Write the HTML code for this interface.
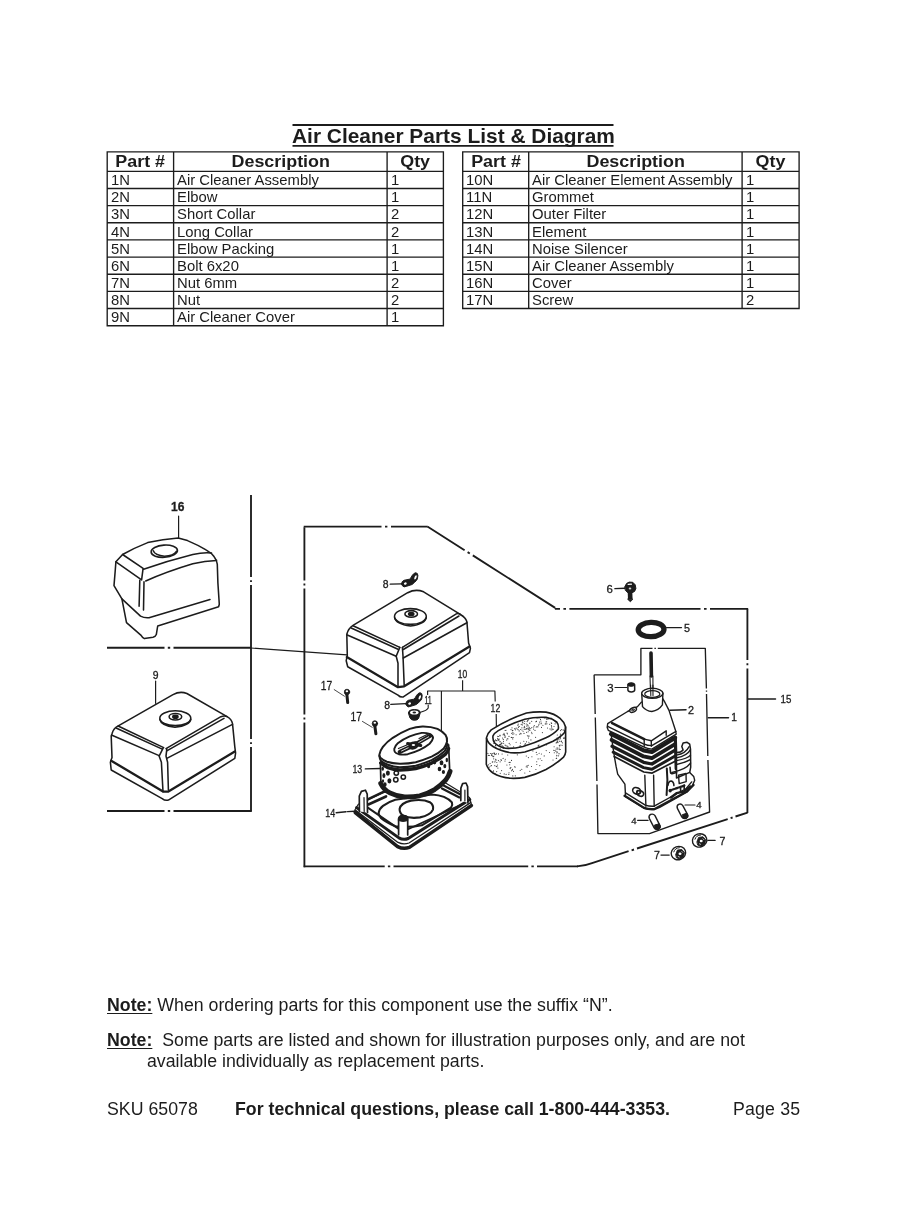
<!DOCTYPE html>
<html lang="en">
<head>
<meta charset="utf-8">
<title>Air Cleaner Parts List &amp; Diagram</title>
<style>
html,body{margin:0;padding:0;background:#fff;}
html{filter:grayscale(1) blur(0.3px);}
body{width:906px;height:1208px;position:relative;overflow:hidden;font-family:"Liberation Sans",Arial,Helvetica,sans-serif;color:#1c1c1c;}
.abs{position:absolute;white-space:nowrap;}
.abs{transform-origin:0 50%;}
#title{left:292.4px;top:124.5px;font-weight:bold;font-size:20.6px;line-height:22px;transform:scaleX(1.015);}
.th{font-weight:bold;font-size:16.8px;line-height:18px;text-align:center;transform:scaleX(1.066);transform-origin:50% 50%;}
.td{font-size:14.6px;line-height:17px;transform:scaleX(1.017);}
.note{font-size:17.5px;line-height:20px;left:107.3px;transform:scaleX(1.014);}
.note b{text-decoration:underline;text-decoration-thickness:1.3px;text-underline-offset:2px;}
svg{position:absolute;left:0;top:0;overflow:visible;}
#diagram text{font-family:"Liberation Sans",Arial,sans-serif;fill:#1c1c1c;stroke:#1c1c1c;stroke-width:0.3px;}
</style>
</head>
<body>
<svg id="grid" width="906" height="1208" viewBox="0 0 906 1208">
<g stroke="#1c1c1c" stroke-width="1.35" fill="none" stroke-linecap="square">
<path d="M293.4 125H612.6M293.4 145.8H612.6" stroke-width="1.8"/>
<path d="M107.2 151.80H443.4M107.2 171.30H443.4M107.2 188.46H443.4M107.2 205.61H443.4M107.2 222.77H443.4M107.2 239.92H443.4M107.2 257.08H443.4M107.2 274.23H443.4M107.2 291.38H443.4M107.2 308.54H443.4M107.2 325.70H443.4M107.2 151.8V325.70M173.6 151.8V325.70M387.1 151.8V325.70M443.4 151.8V325.70"/>
<path d="M462.7 151.80H799.1M462.7 171.30H799.1M462.7 188.46H799.1M462.7 205.61H799.1M462.7 222.77H799.1M462.7 239.92H799.1M462.7 257.08H799.1M462.7 274.23H799.1M462.7 291.38H799.1M462.7 308.54H799.1M462.7 151.8V308.54M528.7 151.8V308.54M742.1 151.8V308.54M799.1 151.8V308.54"/>
</g>
</svg>
<div id="title" class="abs">Air Cleaner Parts List &amp; Diagram</div>
<div class="abs th" style="left:107.2px;width:66.4px;top:153.2px">Part #</div>
<div class="abs th" style="left:173.6px;width:213.5px;top:153.2px">Description</div>
<div class="abs th" style="left:387.1px;width:56.3px;top:153.2px">Qty</div>
<div class="abs td" style="left:110.8px;top:172.05px">1N</div>
<div class="abs td" style="left:177.2px;top:172.05px">Air Cleaner Assembly</div>
<div class="abs td" style="left:390.7px;top:172.05px">1</div>
<div class="abs td" style="left:110.8px;top:189.21px">2N</div>
<div class="abs td" style="left:177.2px;top:189.21px">Elbow</div>
<div class="abs td" style="left:390.7px;top:189.21px">1</div>
<div class="abs td" style="left:110.8px;top:206.36px">3N</div>
<div class="abs td" style="left:177.2px;top:206.36px">Short Collar</div>
<div class="abs td" style="left:390.7px;top:206.36px">2</div>
<div class="abs td" style="left:110.8px;top:223.52px">4N</div>
<div class="abs td" style="left:177.2px;top:223.52px">Long Collar</div>
<div class="abs td" style="left:390.7px;top:223.52px">2</div>
<div class="abs td" style="left:110.8px;top:240.67px">5N</div>
<div class="abs td" style="left:177.2px;top:240.67px">Elbow Packing</div>
<div class="abs td" style="left:390.7px;top:240.67px">1</div>
<div class="abs td" style="left:110.8px;top:257.83px">6N</div>
<div class="abs td" style="left:177.2px;top:257.83px">Bolt 6x20</div>
<div class="abs td" style="left:390.7px;top:257.83px">1</div>
<div class="abs td" style="left:110.8px;top:274.98px">7N</div>
<div class="abs td" style="left:177.2px;top:274.98px">Nut 6mm</div>
<div class="abs td" style="left:390.7px;top:274.98px">2</div>
<div class="abs td" style="left:110.8px;top:292.13px">8N</div>
<div class="abs td" style="left:177.2px;top:292.13px">Nut</div>
<div class="abs td" style="left:390.7px;top:292.13px">2</div>
<div class="abs td" style="left:110.8px;top:309.29px">9N</div>
<div class="abs td" style="left:177.2px;top:309.29px">Air Cleaner Cover</div>
<div class="abs td" style="left:390.7px;top:309.29px">1</div>
<div class="abs th" style="left:462.7px;width:66.0px;top:153.2px">Part #</div>
<div class="abs th" style="left:528.7px;width:213.4px;top:153.2px">Description</div>
<div class="abs th" style="left:742.1px;width:57.0px;top:153.2px">Qty</div>
<div class="abs td" style="left:466.3px;top:172.05px">10N</div>
<div class="abs td" style="left:532.3px;top:172.05px">Air Cleaner Element Assembly</div>
<div class="abs td" style="left:745.7px;top:172.05px">1</div>
<div class="abs td" style="left:466.3px;top:189.21px">11N</div>
<div class="abs td" style="left:532.3px;top:189.21px">Grommet</div>
<div class="abs td" style="left:745.7px;top:189.21px">1</div>
<div class="abs td" style="left:466.3px;top:206.36px">12N</div>
<div class="abs td" style="left:532.3px;top:206.36px">Outer Filter</div>
<div class="abs td" style="left:745.7px;top:206.36px">1</div>
<div class="abs td" style="left:466.3px;top:223.52px">13N</div>
<div class="abs td" style="left:532.3px;top:223.52px">Element</div>
<div class="abs td" style="left:745.7px;top:223.52px">1</div>
<div class="abs td" style="left:466.3px;top:240.67px">14N</div>
<div class="abs td" style="left:532.3px;top:240.67px">Noise Silencer</div>
<div class="abs td" style="left:745.7px;top:240.67px">1</div>
<div class="abs td" style="left:466.3px;top:257.83px">15N</div>
<div class="abs td" style="left:532.3px;top:257.83px">Air Cleaner Assembly</div>
<div class="abs td" style="left:745.7px;top:257.83px">1</div>
<div class="abs td" style="left:466.3px;top:274.98px">16N</div>
<div class="abs td" style="left:532.3px;top:274.98px">Cover</div>
<div class="abs td" style="left:745.7px;top:274.98px">1</div>
<div class="abs td" style="left:466.3px;top:292.13px">17N</div>
<div class="abs td" style="left:532.3px;top:292.13px">Screw</div>
<div class="abs td" style="left:745.7px;top:292.13px">2</div>
<svg id="diagram" width="906" height="1208" viewBox="0 0 906 1208">
<g fill="none" stroke="#1c1c1c" stroke-linecap="round" stroke-linejoin="round">
<!-- ===== dash-dot frames ===== -->
<g id="frames" stroke-width="1.85" stroke-linecap="butt">
<!-- left panel -->
<path d="M251 495V577M251 580.2V582M251 585V739M251 742.2V744M251 747V811.6"/>
<path d="M107 647.7H164.5M167.8 647.7H170.2M173.5 647.7H251"/>
<path d="M107 811H164.5M167.8 811H170.2M173.5 811H251.7"/>
<!-- main frame -->
<path d="M304.4 527.3V580.5M304.4 583.5V585.5M304.4 588.5V714.5M304.4 717.5V719.5M304.4 722.5V867.2"/>
<path d="M303.7 526.6H381.5M385 526.6H387.4M391 526.6H427.6"/>
<path d="M427.4 526.5L464.6 550.2M467.6 552.1L469.8 553.5M472.8 555.4L555.2 607.9"/>
<path d="M554.9 608.8H560M563.4 608.8H566M569.4 608.8H700.5M704 608.8H706.6M710 608.8H748.1"/>
<path d="M747.4 608.8V660M747.4 663.2V665.2M747.4 668.5V813"/>
<path d="M747.6 812.6L735.5 816.5M732.6 817.5L730.6 818.1M727.7 819.1L637 848.5M634 849.5L631.6 850.3M628.6 851.2L592 863.2Q585 866 577 866.4"/>
<path d="M578 866.4H537M533.8 866.4H531.4M528.2 866.4H393.5M390.3 866.4H387.9M384.7 866.4H303.7"/>
</g>
<!-- inner box for 1 -->
<g id="box1" stroke-width="1.35" stroke-linecap="butt">
<path d="M594.1 674.8H640.9V648.3H652.5M654.4 648.3H655.9M657.8 648.3H705.3L706.4 688.5M706.5 690.6V691.8M706.5 694L707.8 756M707.9 760L709.6 812L649.5 833.6H597.9L597 784.5M596.9 781L595.3 717.5M595.2 714L594.1 674.8"/>
</g>
<!-- leader from left panel to cover -->
<path d="M251 648L347 654.9" stroke-width="1.1"/>


<!-- ===== wingnuts (8) ===== -->
<g id="wing1">
<path d="M390.2 584.2L401.5 583.9" stroke-width="1.3"/>
<path d="M401.5 583.9Q401.6 581.2 404 580.3L409.4 579.2Q411.2 578 412.1 575.6Q413.6 573.2 415.6 572.7Q417.9 572.9 417.9 575.5L417.4 578.9Q416.5 580.8 414.7 582.2L412.1 584.5L406.8 586.2L404.1 586.9Q402.3 586.6 401.5 583.9Z" fill="#1c1c1c" stroke-width="1"/><ellipse cx="405.3" cy="583.6" rx="1.45" ry="1.15" fill="#fff" stroke="none" transform="rotate(-20 405.3 583.6)"/><ellipse cx="415.5" cy="577.4" rx="1" ry="2.25" fill="#fff" stroke="none" transform="rotate(22 415.5 577.4)"/>
</g>
<g id="wing2" transform="translate(4.3 120)">
<path d="M386.5 584.4L401.5 583.6" stroke-width="1.3"/>
<path d="M401.5 583.9Q401.6 581.2 404 580.3L409.4 579.2Q411.2 578 412.1 575.6Q413.6 573.2 415.6 572.7Q417.9 572.9 417.9 575.5L417.4 578.9Q416.5 580.8 414.7 582.2L412.1 584.5L406.8 586.2L404.1 586.9Q402.3 586.6 401.5 583.9Z" fill="#1c1c1c" stroke-width="1"/><ellipse cx="405.3" cy="583.6" rx="1.45" ry="1.15" fill="#fff" stroke="none" transform="rotate(-20 405.3 583.6)"/><ellipse cx="415.5" cy="577.4" rx="1" ry="2.25" fill="#fff" stroke="none" transform="rotate(22 415.5 577.4)"/>
</g>
<!-- ===== screws (17) ===== -->
<g id="screws">
<path d="M334.2 689.6L344.4 696.2M362.4 721.4L372.2 727.3" stroke-width="0.8"/>
<path d="M346.7 693L347.7 702.6M374.7 725L375.9 733.8" stroke-width="3" stroke-linecap="round"/>
<ellipse cx="347" cy="692" rx="2.7" ry="2.8" fill="#1c1c1c" stroke-width="0.8"/>
<ellipse cx="374.9" cy="723.6" rx="2.7" ry="2.9" fill="#1c1c1c" stroke-width="0.8"/>
<ellipse cx="346.9" cy="691.2" rx="1.3" ry="1" fill="#fff" stroke="none"/>
<ellipse cx="374.8" cy="722.8" rx="1.3" ry="1" fill="#fff" stroke="none"/>
</g>
<!-- ===== grommet (11) ===== -->
<g id="grommet">
<path d="M428.2 705V708Q427 710.5 420.5 712.3" stroke-width="1.1"/>
<path d="M408.4 712.7Q408.6 709.6 414.3 709.5Q420.2 709.6 420.3 712.7L418.6 718.4Q417.6 720.2 414.4 720.3Q411.2 720.2 410.2 718.4Z" fill="#1c1c1c" stroke-width="1"/>
<ellipse cx="414.3" cy="712.5" rx="4.3" ry="2.1" fill="#fff" stroke="none"/>
<ellipse cx="414.3" cy="712.5" rx="1.8" ry="0.9" fill="#1c1c1c" stroke="none"/>
</g>
<!-- ===== bracket (10) ===== -->
<g id="bracket" stroke-width="1.15" stroke-linecap="butt">
<path d="M462.6 680.3V690.6M427.6 694.9V691H494.9L495.2 701.5M496.2 714L496.4 727"/>
<path d="M441.4 691V731.3"/>
</g>
<!-- ===== base (14) ===== -->
<g id="base" stroke-width="1.6">
<path d="M336.2 812.7L346 811.8M347.5 811.6L354.7 811.3" stroke-width="1.4"/>
<!-- outer rim -->
<path d="M354.7 810.3L358.3 804.2L383 792.7L444.8 782.5L469.5 797.5L471.5 804.6L409.5 847.4Q403.5 849.6 397.1 845.7Z" fill="#fff" stroke-width="1.2"/>
<path d="M355.2 812.6L397.6 846.6Q403.4 849.6 409.4 847.4L471.4 805.6" stroke-width="3.5"/>
<path d="M355.6 810.3L398 842.4Q403.4 845 409 843L470.6 802.6" stroke-width="1.3"/>
<path d="M356.6 807.6L398.9 837.9Q403.4 840.3 408.2 838.5L469.8 799.6" stroke-width="3"/>
<!-- floor / inner walls -->
<path d="M367.4 807.4L398.4 828.6L408.6 829L464.6 803" stroke-width="1.9"/>
<path d="M367.8 799.4L384 791.6M368.4 804.4L386 796.4" stroke-width="2.7"/>
<path d="M442 788.4L459.4 797.4M443.6 785.6L460.6 794.4" stroke-width="2.3"/>
<!-- raised platform -->
<path d="M378.6 813Q379.5 808.5 383 805.9Q389 801.5 395.3 799.7L432 794.5Q446 795.5 451.9 802.4Q453 805 451 807.7L421.8 825.3Q410 828 395.3 826.2Q386 822.5 381.2 818.3Q378.8 815.5 378.6 813Z" stroke-width="2.1"/>
<path d="M399.6 809Q400.8 802.8 411 800.6Q423 798.8 429.8 802.2Q434 805.2 433 809.6Q430.4 815.2 420 817.4Q410 818.8 403.4 815.8Q399.4 813.2 399.6 809Z" stroke-width="2.1"/>
<!-- posts -->
<path d="M359.4 811.6L359.3 796L361.4 791.4L365.4 790.2L367.2 794L367.5 812.5" fill="#fff" stroke-width="1.7"/>
<path d="M364.2 811.4L364 797.5" stroke-width="1.2"/>
<path d="M460.8 800.6L460.9 788L462.6 783.6L466 783L467.6 786.6L467.9 803" fill="#fff" stroke-width="1.7"/>
<path d="M464.9 801V790" stroke-width="1.2"/>
<path d="M398.6 834.8V818.5Q399 815.8 403.1 815.6Q407.3 815.8 407.7 818.5V835" fill="#fff" stroke-width="1.7"/>
<path d="M398.6 818.2Q399 815.4 403.1 815.2Q407.3 815.4 407.7 818.2L407.7 820.6Q403 822.4 398.6 820.6Z" fill="#1c1c1c" stroke-width="1"/>
</g>
<!-- ===== element (13) ===== -->
<g id="element" stroke-width="1.6">
<path d="M365.3 768.9L380.4 768.5" stroke-width="1.3"/>
<path d="M380 757L380.7 784Q383.6 790 389.9 793.2Q397 796.8 404.8 797.3Q412 797.6 419.7 796.2Q427.5 794.2 434.6 790Q441 785.8 445.6 780.6Q448.7 776.8 450.1 771.8L448.6 742Z" fill="#fff" stroke="none"/>
<path d="M380.4 762.7L380.9 783.5M448.6 744.8L449.7 771" stroke-width="1.7"/>
<path d="M380.7 783.4Q383.6 789.6 389.9 792.8Q397 796.4 404.8 796.9Q412 797.2 419.7 795.8Q427.5 793.8 434.6 789.6Q441 785.4 445.6 780.2Q448.7 776.4 450.1 771.4" stroke-width="4.8"/>
<!-- top oval -->
<path d="M379.4 754.7Q380 750.5 382.9 746.8Q387 741.8 392.8 737.8Q401 732.5 409.7 728.9Q416 726.8 422.6 726.4Q431 726.3 437.5 728.9Q442.5 731.3 445.5 734.9Q447.6 738 447 741.8Q446 745.5 443.5 748.8Q438.5 753.5 431.6 756.7Q424 760 415.7 762.2Q408 763.8 399.8 763.7Q392.5 763.4 386.9 761.7Q382.5 760 380.4 757.7Q379.3 756.3 379.4 754.7Z" fill="#fff" stroke-width="2"/>
<path d="M379.4 755.7Q379.6 758.6 380.9 760.7Q383.6 763.2 387.9 764.7Q393.5 766.8 399.8 767.2Q408 767.2 415.7 765.7Q424 763.6 431.6 760.2Q439 756.5 444.5 751.3Q447 748 447.5 743.8" stroke-width="2"/>
<path d="M380.7 762.9Q383.6 765.8 387.9 767.6Q393.5 769.6 399.8 770Q408 769.9 415.7 768.5Q424 766.4 431.6 763.1Q439.5 759.2 445.5 754.1Q447.8 751.8 448.6 748.6" stroke-width="3.4"/>
<!-- opening -->
<path d="M394.3 748.8Q395 745.8 397.8 743.3Q403 739.2 409.7 736.4Q415.5 734 421.7 732.9Q426 732.6 429.6 733.9Q432.8 735.3 433.1 737.8Q432.5 741 429.6 743.8Q425.5 747.2 419.7 749.8Q414 752.4 407.7 754.2Q403 755 398.8 754.2Q395.5 753.2 394.8 751.8Q394.1 750.4 394.3 748.8Z" stroke-width="1.9"/>
<path d="M399.8 751.8L412 746.2L430.2 735.8" stroke-width="4.2"/>
<path d="M407.6 743.6L420.8 745.6" stroke-width="3" stroke-linecap="round"/>
<path d="M401.5 751L409 747.4M418.5 742.6L428.6 736.8" stroke="#fff" stroke-width="0.8"/>
<path d="M398.4 748.6L408 744.4M419 738.6L428.6 733.8" stroke-width="1.1"/>
<ellipse cx="413.6" cy="745.4" rx="4.8" ry="3.1" fill="#1c1c1c" transform="rotate(-25 413.6 745.4)"/>
<ellipse cx="413.4" cy="745" rx="1.7" ry="1.1" fill="#fff" stroke="none"/>
<!-- holes -->
<g stroke-width="1.5"><circle cx="396.3" cy="773.1" r="2.2"/><circle cx="403.3" cy="777.1" r="2.2"/><circle cx="395.8" cy="779.8" r="2.2"/></g>
<g fill="#1c1c1c" stroke="none">
<ellipse cx="387.9" cy="773.1" rx="2" ry="2.6"/><ellipse cx="389.4" cy="780.8" rx="2" ry="2.6"/><ellipse cx="383.9" cy="775.6" rx="1.5" ry="2.5"/><ellipse cx="384.9" cy="784.5" rx="1.7" ry="2.3"/><ellipse cx="382.7" cy="768.7" rx="1.3" ry="2"/><ellipse cx="383" cy="781" rx="1.1" ry="1.8"/>
<ellipse cx="428.6" cy="765.9" rx="1.6" ry="2.4"/><ellipse cx="434.6" cy="762.1" rx="1.7" ry="2.3"/><ellipse cx="441.5" cy="762.7" rx="1.9" ry="2.5"/><ellipse cx="444.8" cy="766.1" rx="1.5" ry="2.2"/><ellipse cx="439.5" cy="769" rx="1.8" ry="2.3"/><ellipse cx="443.4" cy="772" rx="1.6" ry="2"/><ellipse cx="446.8" cy="760" rx="1.2" ry="2.2"/>
</g>
</g>
<!-- ===== outer filter (12) ===== -->
<clipPath id="clip12"><path d="M486.5 737.7L486.3 764.2Q488 769.5 493 773Q500 777.3 510.6 778.3Q518 778.6 524.8 777.4Q536 774.6 546 769.5Q556 764 563.6 757.1Q565.4 754.6 565.7 751.8L565.6 727Q564 721.5 560.1 718.3Q554.5 713.6 546 712.1Q536 711.4 526.5 713Q507 719.5 491.2 729.8Q487.5 733 486.5 737.7Z"/></clipPath>
<g id="outer" stroke-width="1.6">
<path d="M486.5 737.7L486.3 764.2Q488 769.5 493 773Q500 777.3 510.6 778.3Q518 778.6 524.8 777.4Q536 774.6 546 769.5Q556 764 563.6 757.1Q565.4 754.6 565.7 751.8L565.6 727Q564 721.5 560.1 718.3Q554.5 713.6 546 712.1Q536 711.4 526.5 713Q507 719.5 491.2 729.8Q487.5 733 486.5 737.7Z" fill="#fff"/>
<path d="M486.6 738.5Q487.5 743 493 746.5Q500 751 510.6 752.7Q518 753.2 524.8 752Q539 748 553 741.2Q561 736.8 564.5 732.4Q565.6 729.8 565.5 727"/>
<path d="M493 735.9Q494.5 732.8 498.3 730.6Q511 723.5 524.8 719.2Q535 716.8 546 717.4Q552.5 718.5 556.6 721.8Q559 725 558.3 728.9Q554 734 546 737.7Q535 742.8 523 746.5Q514 748.8 505.3 748.3Q498 746.5 494.7 743Q492.4 739.5 493 735.9Z"/>
<path d="M528.9 736.5h.01M514.9 728.6h.01M559.3 745.3h.01M527.4 735.8h.01M501.6 770.6h.01M506.7 740.1h.01M521.2 724.3h.01M530.8 728.6h.01M511.5 760.4h.01M495.0 773.5h.01M559.2 753.7h.01M500.2 735.2h.01M488.8 771.1h.01M502.1 745.8h.01M531.5 766.5h.01M541.5 727.4h.01M516.1 742.2h.01M522.0 730.0h.01M556.1 749.1h.01M489.9 774.1h.01M519.2 730.9h.01M516.1 734.7h.01M506.9 765.0h.01M524.0 727.7h.01M542.4 732.6h.01M556.8 755.4h.01M562.2 745.2h.01M524.8 773.0h.01M497.7 738.4h.01M560.5 734.1h.01M491.0 773.6h.01M512.8 775.9h.01M537.1 718.1h.01M561.4 741.1h.01M522.9 722.9h.01M510.1 768.1h.01M526.3 724.0h.01M526.3 756.0h.01M500.1 761.8h.01M518.2 729.7h.01M492.4 755.9h.01M561.4 729.6h.01M560.3 735.1h.01M493.9 743.4h.01M551.6 723.4h.01M509.1 762.3h.01M500.8 745.1h.01M494.8 754.6h.01M538.6 725.1h.01M502.5 738.0h.01M564.5 731.8h.01M507.9 738.8h.01M491.5 765.5h.01M537.0 754.6h.01M546.6 721.7h.01M536.8 764.5h.01M528.9 735.8h.01M513.6 746.8h.01M559.7 745.9h.01M560.1 737.8h.01M499.4 744.9h.01M495.1 777.6h.01M520.6 729.5h.01M531.7 721.3h.01M542.9 725.2h.01M546.9 723.7h.01M493.7 758.8h.01M546.9 719.4h.01M529.3 727.2h.01M520.6 745.8h.01M520.4 743.1h.01M557.1 740.2h.01M527.1 721.6h.01M546.8 719.1h.01M505.1 730.5h.01M499.9 736.0h.01M505.2 736.7h.01M554.3 752.7h.01M503.7 747.3h.01M492.3 762.1h.01M501.3 760.4h.01M513.5 771.3h.01M501.3 743.8h.01M505.0 736.9h.01M562.5 742.8h.01M494.8 765.6h.01M525.0 744.4h.01M496.5 753.8h.01M524.7 727.2h.01M504.8 735.4h.01M507.7 755.0h.01M536.2 727.0h.01M502.1 754.0h.01M496.9 740.7h.01M507.4 733.8h.01M516.2 728.1h.01M492.9 753.6h.01M513.2 737.5h.01M496.3 776.2h.01M553.8 750.3h.01M507.0 733.0h.01M564.4 738.2h.01M512.7 738.9h.01M504.2 773.9h.01M539.0 718.0h.01M493.5 770.9h.01M488.6 764.8h.01M501.8 742.7h.01M529.1 728.2h.01M489.3 767.1h.01M563.5 738.2h.01M496.8 762.5h.01M563.1 729.9h.01M535.0 730.4h.01M495.7 775.9h.01M536.3 721.3h.01M509.7 764.7h.01M526.6 726.0h.01M557.7 741.3h.01M557.1 747.8h.01M495.5 745.4h.01M536.7 761.7h.01M488.4 755.4h.01M553.0 760.0h.01M490.4 753.5h.01M513.9 733.7h.01M514.5 766.7h.01M509.0 772.7h.01M511.0 729.6h.01M524.4 723.6h.01M560.3 737.2h.01M528.0 728.1h.01M538.2 746.5h.01M538.1 758.9h.01M539.8 765.6h.01M495.4 754.2h.01M556.0 751.4h.01M501.9 743.5h.01M560.3 749.5h.01M523.8 741.2h.01M522.3 724.9h.01M512.0 727.8h.01M556.2 742.9h.01M490.1 763.5h.01M527.0 765.7h.01M555.0 750.5h.01M503.1 734.8h.01M549.5 752.5h.01M561.5 741.7h.01M503.3 748.4h.01M500.7 744.1h.01M518.2 724.2h.01M508.0 746.9h.01M490.8 766.0h.01M503.5 741.3h.01M497.9 768.1h.01M517.3 729.0h.01M528.4 757.6h.01M529.8 771.3h.01M559.2 749.6h.01M539.1 753.2h.01M548.2 718.9h.01M526.5 741.8h.01M496.9 766.6h.01M553.1 729.4h.01M502.5 746.0h.01M494.8 762.0h.01M520.2 770.3h.01M551.9 728.2h.01M489.0 774.0h.01M498.5 753.9h.01M518.4 727.3h.01M517.9 725.3h.01M509.0 736.4h.01M504.3 734.6h.01M533.6 729.1h.01M531.8 727.5h.01M532.0 733.6h.01M519.8 734.3h.01M499.7 746.1h.01M530.0 723.0h.01M487.9 753.4h.01M491.8 753.8h.01M544.8 717.9h.01M499.8 735.2h.01M552.7 729.6h.01M495.2 761.0h.01M495.8 747.0h.01M530.9 739.9h.01M496.2 766.3h.01M555.1 723.8h.01M560.4 738.7h.01M493.7 756.3h.01M503.6 743.2h.01M526.3 728.5h.01M507.3 738.7h.01M541.1 723.7h.01M532.9 750.9h.01M536.3 752.4h.01M511.6 770.7h.01M505.0 737.5h.01M528.2 765.3h.01M551.2 722.7h.01M518.2 724.1h.01M493.3 756.7h.01M498.5 739.5h.01M546.5 744.8h.01M497.7 739.7h.01M546.1 721.9h.01M527.4 767.0h.01M556.8 752.8h.01M501.0 759.6h.01M560.5 730.6h.01M496.3 740.5h.01M521.2 733.7h.01M522.7 721.7h.01M498.4 736.5h.01M528.1 725.9h.01M540.2 758.7h.01M556.8 755.8h.01M557.6 749.0h.01M499.2 739.0h.01M512.3 769.9h.01M501.6 776.6h.01M559.1 748.1h.01M523.1 731.2h.01M497.4 765.0h.01M503.3 739.4h.01M493.6 773.6h.01M521.9 727.8h.01M559.8 741.4h.01M564.1 737.3h.01M493.3 771.2h.01M507.1 746.1h.01M554.5 721.0h.01M558.0 742.6h.01M535.6 737.3h.01M564.2 730.6h.01M549.7 724.3h.01M491.1 774.3h.01M499.7 741.7h.01M504.0 734.2h.01M524.2 729.3h.01M508.8 774.4h.01M557.1 742.2h.01M511.9 737.4h.01M508.4 778.0h.01M503.1 758.4h.01M535.9 769.5h.01M519.7 746.0h.01M491.7 754.3h.01M514.6 728.7h.01M538.2 745.5h.01M554.0 726.5h.01M560.9 745.0h.01M529.2 729.1h.01M558.6 755.8h.01M525.8 729.3h.01M534.3 725.6h.01M490.7 774.6h.01M489.6 755.5h.01M546.5 717.6h.01M527.0 728.9h.01M491.2 771.2h.01M529.8 730.4h.01M551.4 725.6h.01M505.1 745.1h.01M539.0 745.1h.01M554.1 746.7h.01M492.8 761.8h.01M515.3 775.8h.01M510.1 762.4h.01M551.2 729.9h.01M558.8 753.7h.01M531.9 756.7h.01M522.4 722.1h.01M540.5 719.4h.01M493.4 773.3h.01M496.7 771.6h.01M546.2 750.6h.01M556.6 758.2h.01M505.3 759.2h.01M506.0 745.7h.01M504.0 733.3h.01M545.9 724.0h.01M510.2 768.6h.01M498.4 760.6h.01M496.6 774.5h.01M495.3 774.5h.01M527.6 724.8h.01M487.7 770.7h.01M521.8 769.3h.01M510.9 767.5h.01M556.3 758.4h.01M553.5 719.9h.01M500.5 741.7h.01M494.5 753.4h.01M494.3 773.7h.01M533.7 726.9h.01M509.2 743.4h.01M528.2 731.7h.01M556.9 742.0h.01M506.0 730.2h.01M541.8 760.5h.01M499.9 744.5h.01M511.8 733.4h.01M541.4 754.0h.01M524.7 721.5h.01M528.5 738.0h.01M498.8 740.4h.01M557.6 752.0h.01M524.4 726.3h.01M539.6 722.1h.01M512.8 730.4h.01M498.8 739.4h.01M537.9 726.8h.01M510.1 744.7h.01M494.1 752.9h.01M551.1 718.0h.01M536.9 726.7h.01M515.2 767.1h.01M512.5 769.3h.01M544.2 755.9h.01M511.2 737.5h.01M526.6 732.3h.01M503.3 746.9h.01M512.9 732.3h.01M518.4 727.1h.01M500.2 773.3h.01M495.6 759.2h.01M559.0 739.7h.01M517.3 754.8h.01M496.2 760.0h.01M500.1 748.3h.01M551.6 726.9h.01M557.8 739.5h.01M529.5 723.2h.01M540.9 721.0h.01M536.5 721.4h.01M494.8 740.9h.01M497.8 736.4h.01M520.3 733.2h.01M545.3 723.9h.01M547.5 728.0h.01M505.0 761.1h.01M528.9 742.2h.01M515.4 729.8h.01M555.9 722.3h.01M550.0 728.9h.01M495.5 739.8h.01M525.3 743.5h.01M531.6 732.2h.01M512.3 730.6h.01M506.1 774.4h.01M535.8 721.7h.01M526.2 766.8h.01M512.8 734.2h.01M557.0 738.1h.01M557.3 735.0h.01M528.5 729.7h.01M539.2 724.0h.01M519.3 726.5h.01M541.2 723.0h.01M491.5 755.5h.01M527.6 720.6h.01M524.0 733.4h.01M528.6 719.8h.01" stroke-width="1.15" stroke-linecap="round" opacity="0.85" clip-path="url(#clip12)"/>
</g>

<!-- ===== bolt (6) ===== -->
<g id="bolt6">
<path d="M614.9 588.6L625 588.2" stroke-width="1.4"/>
<path d="M630 592L630.3 599.6" stroke-width="4.6" stroke-linecap="butt"/>
<path d="M627.8 599.4L630.4 601.8L632.6 599.4Z" fill="#1c1c1c" stroke-width="0.8"/>
<path d="M624.9 586.6L626.6 583.4L629.2 582.1L632.8 582.3L635.2 584.8L635.9 588.4L634.6 591.4L632 592.8L628 592.8L625.6 590.6Z" fill="#1c1c1c" stroke-width="1"/>
<path d="M628.2 584.4L631.4 584.2" stroke="#fff" stroke-width="1.3"/>
<ellipse cx="630" cy="588.4" rx="1.3" ry="1" fill="#fff" stroke="none" opacity="0.8"/>
</g>
<!-- ===== ring (5) ===== -->
<g id="ring5">
<path d="M666.5 627.6H681.5" stroke-width="1.3"/>
<ellipse cx="651.1" cy="629.5" rx="12.9" ry="7.2" stroke-width="5.3" transform="rotate(-2 651.1 629.5)"/>
</g>
<!-- ===== collar (3) ===== -->
<g id="collar3">
<path d="M615 687.5H626.8" stroke-width="1.2"/>
<path d="M627.9 684.7Q628 683 631.2 682.9Q634.4 683 634.6 684.7L634.7 690.2Q634.4 691.9 631.3 692Q628.2 691.9 627.9 690.2Z" fill="#fff" stroke-width="1.5"/>
<ellipse cx="631.2" cy="684.8" rx="3.3" ry="1.6" fill="#1c1c1c" stroke-width="0.8"/>
</g>
<!-- ===== air cleaner assembly (1/2) ===== -->
<g id="assy" stroke-width="1.4">
<path d="M670 710.2L686 709.8M708.3 717.8H728.5M747.7 698.9H775.5" stroke-width="1.5"/>
<!-- rod -->
<path d="M651 653L651.4 676" stroke-width="3.6" stroke-linecap="round"/>
<path d="M650 676L650.6 695M652.9 676L653 695" stroke-width="1.1"/>
<!-- lower body silhouette -->
<path d="M611 733.6L614.3 756.2L616.1 766.4L617.7 774.2L624.9 784.1L625.5 795.1L624.3 796.2L644.2 808.4Q649 809.9 654.2 809.5L659.7 807.3L687.3 791.8L692.4 785.6L694.7 780.3L693.7 776.4L689.7 772.4L676.2 768.6L675.1 737.7Z" fill="#fff"/>
<path d="M625.5 792.9L645.3 805.1Q649.5 806.6 654.2 806.2L686.2 788.5L691.7 781.9"/>
<path d="M624.6 795.6L644.2 807.9Q649 809.6 654.2 809.1L687 791.4L693.6 785" stroke-width="2.2"/>
<path d="M644.8 775.3L645.9 806.2M653.6 775.3L654.2 806.2"/>
<path d="M666.8 768.4L667.4 780L666.6 795" stroke-width="2"/>
<ellipse cx="636.7" cy="790.9" rx="4.2" ry="3.2" stroke-width="1.6" transform="rotate(25 636.7 790.9)"/>
<ellipse cx="638.4" cy="792" rx="1.9" ry="1.4" stroke-width="1.1" transform="rotate(25 638.4 792)"/>
<path d="M667.9 785.4Q668.6 781 671.2 781Q673.8 781.6 673.9 785.6" stroke-width="1.6"/>
<ellipse cx="670.2" cy="790.6" rx="1.7" ry="1.9" fill="#1c1c1c" stroke="none"/>
<path d="M672 789.8L684.4 785.6" stroke-width="2.2" stroke-dasharray="2.4 1.2"/>
<path d="M671 797.5L676.5 793.2L683.5 791.6L690.5 786.4" stroke-width="2.4"/>
<path d="M680.6 786.6V790.6M684.2 785V789" stroke-width="1.6"/>
<ellipse cx="640.2" cy="793.4" rx="3.6" ry="2.6" stroke-width="1.5" transform="rotate(25 640.2 793.4)"/>
<!-- ribs -->
<path d="M611 733.9L643.6 750.4L651.9 752L675.1 737.7" stroke-width="4.2"/>
<path d="M611.6 739.9L643.6 756.4L651.9 758.1L675.1 744.2" stroke-width="3.9"/>
<path d="M612.1 746.3L643.6 762.3L651.9 764L675.1 750.2" stroke-width="3.3"/>
<path d="M613.2 752.2L643.6 767.6L651.9 769.3L675.1 756" stroke-width="3"/>
<path d="M614.2 756.6L643.8 772L652.2 773.1L675.2 761.2" stroke-width="1.7"/>
<path d="M675.3 737.7L676.2 768.6" stroke-width="3.2"/>
<!-- clamp bracket -->
<path d="M676.5 752.5Q680.8 752.6 683.1 749.9L681.8 746.6L683.1 742.9L687.1 742.3L689.7 744.2L690.5 749.2L690.7 767.1L689.7 772.4L676.5 778Z" fill="#fff" stroke-width="1.5"/>
<path d="M676.5 755.2Q685.8 753.4 689.1 746.6M676.5 757.8Q687.1 756 690.4 749.6M676.5 760.6Q687.7 758.8 690.5 755.2" stroke-width="1.3"/>
<path d="M676.5 764.4Q685 762.6 689.7 759.8M671.9 772.4Q685.8 769.6 690.5 763.1" stroke-width="1.5"/>
<path d="M678.5 775.2L686 773.4L686.2 781.6L679.2 783.6Z" stroke-width="1.4"/>
<path d="M670 767.2L670.6 773L672 773.8L676.5 772.4" stroke-width="1.6"/>
<!-- top cover (elbow 2) -->
<path d="M641.4 702.1L637.5 706.6L627.6 711.5L607.7 723.7L607.2 727.5L608.3 730.3L643.6 746.8Q647.6 748.8 651.9 749.1L676.2 734.2L675.6 730.8L669 710.4L665.1 702.7L662.9 698.8Z" fill="#fff"/>
<path d="M607.6 726.4L643.4 743.8Q647.6 745.6 651.8 745.6L676 731.4"/>
<path d="M612.1 723.1L644.2 739.1" stroke-width="2.6"/>
<path d="M644.2 739.1L651.3 740.8L666.2 730.8V735.3"/>
<path d="M644.2 739.7V746.3M651.3 740.8V746.3"/>
<ellipse cx="633.1" cy="709.9" rx="3.6" ry="2.1" transform="rotate(-25 633.1 709.9)" fill="#fff"/>
<ellipse cx="633.1" cy="709.9" rx="1.4" ry="0.8" transform="rotate(-25 633.1 709.9)" stroke-width="1"/>
<!-- neck -->
<path d="M641.7 693.3L642.5 706.6Q646 711 651.9 711.5Q658.5 710.6 662.4 704.9L662.9 693.3Z" fill="#fff"/>
<ellipse cx="652.3" cy="693.3" rx="10.6" ry="5" fill="#fff"/>
<ellipse cx="652.3" cy="694" rx="7.6" ry="3.4" stroke-width="1.2"/>
<path d="M650.6 685L650.8 695.6M652.9 685L653 695.6" stroke-width="1.1"/>
</g>
<!-- ===== pins (4) ===== -->
<g id="pins" stroke-width="1.4">
<path d="M685 805H695M637.6 820.3H648.1" stroke-width="1.2"/>
<path d="M677.4 808.4Q676.4 805.6 678.6 804.4Q681.2 803.4 682.8 805.6L687.6 814.6Q688.6 817.2 686 818.4Q683 819.2 681.8 817Z" fill="#fff"/>
<path d="M682.6 814.6L686.8 813.2L687.8 815.4Q688.4 817.4 686 818.4Q683.2 819.2 682 817.2Z" fill="#1c1c1c" stroke-width="1"/>
<path d="M649.4 818.6Q648.2 815.8 650.6 814.4Q653.4 813.4 655 815.6L660 825.6Q660.8 828 658.4 829.2Q655.4 830 654.2 827.8Z" fill="#fff"/>
<path d="M654.8 825L659.2 823.8L660.2 826Q660.8 828 658.4 829.2Q655.6 830 654.4 828Z" fill="#1c1c1c" stroke-width="1"/>
</g>
<!-- ===== nuts (7) ===== -->
<g id="nuts" stroke-width="1.3">
<path d="M707.9 840.4H715.1M661 855.1H669.2" stroke-width="1.3"/>
<ellipse cx="699.6" cy="840.4" rx="7.3" ry="6.6" fill="#fff" stroke-width="1.4" transform="rotate(-20 699.6 840.4)"/>
<path d="M695.0 839.2Q696.1 835.2 700.6 835.0" stroke-width="1"/>
<path d="M697.0 841.6L698.6 837.4L703.0 836.8L705.6 839.8L704.8 844.0L701.4 846.4L698.0 845.2Z" fill="#1c1c1c" stroke-width="0.9"/>
<ellipse cx="701.2" cy="841.0" rx="1.5" ry="1.2" fill="#fff" stroke="none"/>
<path d="M699.4 843.8l1.2 .5M703.0 838.8l.9 .9" stroke="#fff" stroke-width="0.7"/>
<ellipse cx="678.4" cy="853.1" rx="7.3" ry="6.6" fill="#fff" stroke-width="1.4" transform="rotate(-20 678.4 853.1)"/>
<path d="M673.8 851.9Q674.9 847.9 679.4 847.7" stroke-width="1"/>
<path d="M675.8 854.3L677.4 850.1L681.8 849.5L684.4 852.5L683.6 856.7L680.2 859.1L676.8 857.9Z" fill="#1c1c1c" stroke-width="0.9"/>
<ellipse cx="680.0" cy="853.7" rx="1.5" ry="1.2" fill="#fff" stroke="none"/>
<path d="M678.2 856.5l1.2 .5M681.8 851.5l.9 .9" stroke="#fff" stroke-width="0.7"/>
</g>
<!-- ===== part 16 ===== -->
<g id="p16" stroke-width="1.55">
<path d="M178.6 516V537.5" stroke-width="1.2"/>
<path d="M115.9 561.8L122.6 554.5Q134 548 147.7 542.6Q163 539 178.2 537.9L187.5 540.6Q198 545 206 549.9Q211.5 553 214 556.5Q216.8 560 217.3 564.4L217.9 583L219.3 604.2L218.6 606.8L157.7 626L156.3 634.6Q155.5 636.8 153 637.3L144.4 638.6Q142.3 637.5 141.1 635.3L126.5 622.7L121.9 598.9L114 585.6L115.3 569.7Z" fill="#fff"/>
<path d="M122.6 554.5L143.1 568.4L141.6 579.9L115.9 561.8"/>
<path d="M143.6 569.2Q167 561 192.8 554.5Q203 552.2 211.5 553"/>
<path d="M145.7 581Q167 571.5 192.8 563.8Q205 560.8 216.6 560.4"/>
<path d="M139.8 580.3L139.1 606.2M144 581.7L143.5 610.1"/>
<path d="M121.9 598.9L140.5 616.1Q144.5 618.2 149 617.7L210 599.5"/>
<ellipse cx="164.3" cy="551.2" rx="13.2" ry="6.1" transform="rotate(-4 164.3 551.2)"/>
<path d="M153.3 550.8Q155 555.5 164.5 556.2Q173.5 556 176.6 551.2"/>
</g>
<!-- ===== part 9 ===== -->
<g id="p9" stroke-width="1.55">
<path d="M155.6 681.2V703.3" stroke-width="1.2"/>
<path d="M112 733.7Q113.5 728.6 117.4 726.4L173 694.6Q180 690.8 186.9 693.5L227.1 716.7Q231.6 719.3 232.5 723.6L234.8 746.8L235.6 753L234.8 758.4L168.4 800.1Q165 801 162.2 798.6L111.2 770L110.4 762.3L112 757.6L111.2 736Z" fill="#fff"/>
<path d="M118.1 726L163.7 747.6M116.6 728.3L162.2 749.1"/>
<path d="M112 735.2L159.1 755.6"/>
<path d="M163 748.4L159.1 756.1L161.4 762.3L163 791.6M166.8 749.1L166 756.1L167.6 762.3L168.4 790.1"/>
<path d="M166 748.7L220.9 716.7Q224.5 715.2 227.1 716.7M166.8 750.8L224 718.3"/>
<path d="M166.8 758.4L232.5 724.4"/>
<path d="M111.2 760.7L163 791.6L168.4 791.6L234.8 751.4" stroke-width="2.3"/>
<ellipse cx="175.3" cy="718.2" rx="15.5" ry="7.4" fill="#fff"/>
<path d="M159.9 719.5Q161 725.5 175 727.3Q189.5 725.5 190.8 719.5"/>
<ellipse cx="175.4" cy="716.7" rx="6.3" ry="3.2"/>
<ellipse cx="175.4" cy="716.7" rx="2.6" ry="1.5" fill="#1c1c1c"/>
</g>
<!-- ===== main cover ===== -->
<g id="cover" stroke-width="1.55">
<path d="M346.8 634.2Q348.5 628 353 625.3L407.7 592.7Q415.5 588.6 423.6 591.8L460.7 614.7Q465.8 617.5 466.9 621.8L468.6 643L470.4 648.3L469.5 652.7L403.3 696.9Q400.5 697.6 398 695.1L347.7 666.8L346.2 660.7L347.3 655.4Z" fill="#fff"/>
<path d="M353 625.7L399.8 647.4M351.2 628L398 649.2"/>
<path d="M347.3 635L396.2 656.2"/>
<path d="M399.8 647.4L396.2 656.2L398 663.3L398 686.3M402.4 647.4L403 656L403.3 663.3L404.2 685.4"/>
<path d="M402.4 647.4L456.3 613.9Q458.5 612.9 460.7 614.7M403.3 649.5L459 616"/>
<path d="M403.3 658L466.9 622.7"/>
<path d="M346.8 657.1L398 687.2L404.2 686.3L469.5 646.5" stroke-width="2.3"/>
<ellipse cx="410.4" cy="616.5" rx="15.9" ry="7.9" fill="#fff"/>
<path d="M394.6 617.8Q396 624 410.5 626Q425 624 426.2 617.8"/>
<ellipse cx="411.2" cy="613.9" rx="6.3" ry="3.3"/>
<ellipse cx="411.2" cy="613.9" rx="2.6" ry="1.5" fill="#1c1c1c"/>
</g>
</g>

<!-- ===== labels ===== -->
<g id="labels" fill="#1c1c1c" font-family="Liberation Sans, Arial, sans-serif" font-size="10.4">
<text x="171" y="510.8" font-size="12.6" font-weight="bold" textLength="13.4" lengthAdjust="spacingAndGlyphs">16</text>
<text x="152.8" y="678.6">9</text>
<text x="382.7" y="587.5">8</text>
<text x="384.3" y="708.9">8</text>
<text x="320.8" y="690.1" font-size="12.4" textLength="11.4" lengthAdjust="spacingAndGlyphs">17</text>
<text x="350.6" y="721.4" font-size="12.4" textLength="11.4" lengthAdjust="spacingAndGlyphs">17</text>
<text x="424.4" y="704.3" font-size="11" textLength="7.4" lengthAdjust="spacingAndGlyphs">11</text>
<text x="457.8" y="678.2" textLength="9.4" lengthAdjust="spacingAndGlyphs">10</text>
<text x="490.6" y="712.4" font-size="11" textLength="9.6" lengthAdjust="spacingAndGlyphs">12</text>
<text x="352.4" y="773.4" font-size="11" textLength="9.8" lengthAdjust="spacingAndGlyphs">13</text>
<text x="325.2" y="817.3" font-size="11" textLength="10" lengthAdjust="spacingAndGlyphs">14</text>
<text x="606.6" y="592.6" font-size="11.4">6</text>
<text x="684" y="631.6" font-size="10.8">5</text>
<text x="607.2" y="692" font-size="11.4">3</text>
<text x="688" y="713.6" font-size="10.8">2</text>
<text x="731.2" y="721.1" font-size="10.2">1</text>
<text x="780.6" y="702.7" font-size="10.2" textLength="10.8" lengthAdjust="spacingAndGlyphs">15</text>
<text x="696.2" y="807.8" font-size="9.6">4</text>
<text x="631.2" y="824.4" font-size="9.6">4</text>
<text x="719.6" y="844.8" font-size="10.6">7</text>
<text x="653.9" y="859.2" font-size="10.6">7</text>
</g>
</svg>

<div class="abs note" style="top:995.45px"><b>Note:</b> When ordering parts for this component use the suffix “N”.</div>
<div class="abs note" style="top:1029.55px"><b>Note:</b>&nbsp; Some parts are listed and shown for illustration purposes only, and are not</div>
<div class="abs note" style="top:1050.95px;left:146.8px">available individually as replacement parts.</div>
<div class="abs note" style="top:1099.15px">SKU 65078</div>
<div class="abs note" style="top:1099.15px;left:235.2px;font-weight:bold">For technical questions, please call 1-800-444-3353.</div>
<div class="abs note" style="top:1099.15px;left:732.8px;letter-spacing:0.15px">Page 35</div>
</body>
</html>
